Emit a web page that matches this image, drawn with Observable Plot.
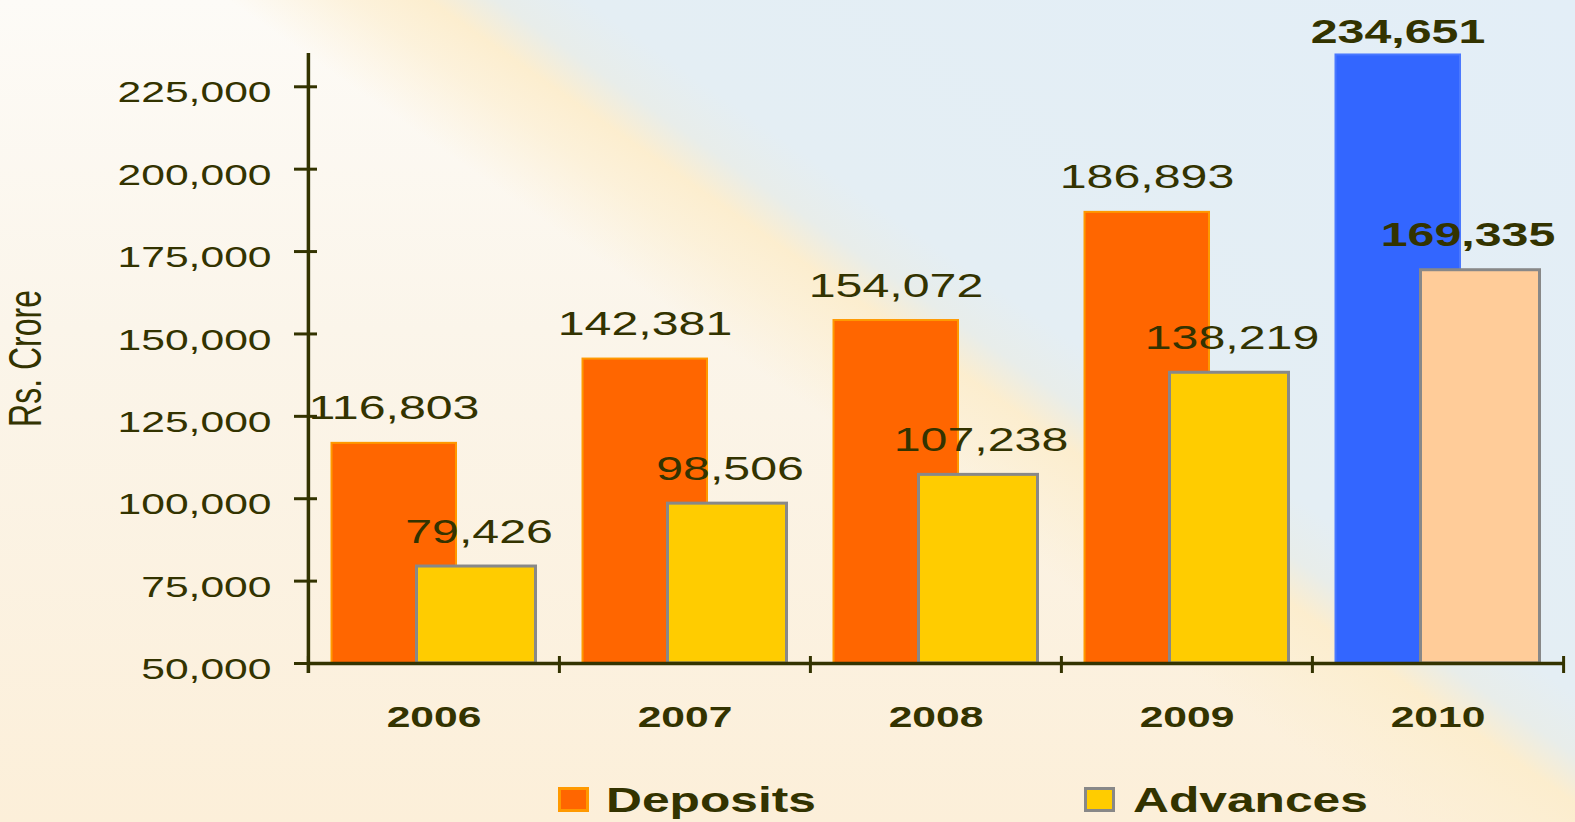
<!DOCTYPE html>
<html>
<head>
<meta charset="utf-8">
<script src="https://cdn.jsdelivr.net/npm/d3@7"></script>
<script src="https://cdn.jsdelivr.net/npm/@observablehq/plot@0.6"></script>
<style>
  html, body { margin: 0; padding: 0; }
  body {
    width: 1575px; height: 822px; overflow: hidden;
    font-family: "Liberation Sans", Arial, sans-serif;
    background:
      linear-gradient(35deg, rgba(252,238,208,0) 0%, rgba(252,238,208,0) 51%, rgba(252,238,208,0.7) 55.5%, rgba(252,237,205,0.95) 58.3%, #E8EDEA 60.8%, #E4EEF4 64%, #E3EEF7 100%),
      linear-gradient(to bottom, #FDFBF7 0%, #FBF5EA 40%, #FCEFD9 100%);
  }
  #wrap { position: relative; width: 1575px; height: 822px; }
  #chart svg { display: block; }
  .leg-box { position: absolute; box-sizing: border-box; width: 31px; height: 25px; }
  .leg-text { position: absolute; font-weight: bold; font-size: 35px; line-height: 35px; color: #333300;
    transform: scaleX(1.42); transform-origin: left center; white-space: nowrap; }
</style>
</head>
<body>
<div id="wrap">
  <div id="chart"></div>
  <div class="leg-box" style="left:558px; top:787px; background:#FF6600; border:3px solid #FF9900;"></div>
  <div class="leg-text" style="left:606px; top:782px;">Deposits</div>
  <div class="leg-box" style="left:1084px; top:787px; background:#FFCC00; border:3px solid #888888;"></div>
  <div class="leg-text" style="left:1133px; top:782px;">Advances</div>
</div>
<script>
const years = ["2006", "2007", "2008", "2009", "2010"];
const deposits = [116803, 142381, 154072, 186893, 234651];
const advances = [79426, 98506, 107238, 138219, 169335];
const yTicks = [50000, 75000, 100000, 125000, 150000, 175000, 200000, 225000];
const yLabel = "Rs. Crore";

const data = years.map((year, i) => ({year, deposits: deposits[i], advances: advances[i]}));
const last = years[years.length - 1];
const W = 1575, H = 745, mL = 307, mR = 12, mT = 53, mB = 82;
const bw = (W - mL - mR) / years.length;
const ink = "#333300";
const fmt = d3.format(",");
const isLast = d => d.year === last;

const plot = Plot.plot({
  width: W, height: H,
  marginLeft: mL, marginRight: mR, marginTop: mT, marginBottom: mB,
  style: {background: "transparent", fontFamily: "Liberation Sans, Arial, sans-serif", color: ink, overflow: "visible"},
  x: {type: "band", domain: years, padding: 0, axis: null},
  y: {domain: [50000, 235100], axis: null},
  marks: [
    Plot.barY(data, {x: "year", y1: 50000, y2: "deposits",
      fill: d => isLast(d) ? "#3366FF" : "#FF6600",
      stroke: d => isLast(d) ? "#4A78FF" : "#FF9900", strokeWidth: 2,
      insetLeft: 23.5, insetRight: 103}),
    Plot.barY(data, {x: "year", y1: 50000, y2: "advances",
      fill: d => isLast(d) ? "#FFCC99" : "#FFCC00",
      stroke: "#888888", strokeWidth: 3,
      insetLeft: 108.5, insetRight: 23.5}),
    Plot.ruleY([50000], {stroke: ink, strokeWidth: 3.5}),
    Plot.ruleX([years[0]], {x: d => d, dx: -bw / 2, stroke: ink, strokeWidth: 3.5, insetBottom: -10}),
    Plot.ruleX(years, {x: d => d, y1: 50000, y2: 50000, dx: -bw / 2, insetTop: -7, insetBottom: -10, stroke: ink, strokeWidth: 3}),
    Plot.ruleX([last], {x: d => d, y1: 50000, y2: 50000, dx: bw / 2, insetTop: -7, insetBottom: -10, stroke: ink, strokeWidth: 3}),
    Plot.axisY({ticks: yTicks, tickSize: 23, dx: 10, tickFormat: () => "", color: ink, strokeWidth: 3, label: null}),
    Plot.axisY({ticks: yTicks, tickSize: 0, tickPadding: 36, dy: 6, tickFormat: fmt, fontSize: 30, color: ink, label: null}),
    Plot.axisX({tickSize: 0, tickPadding: 42, fontSize: 30, fontWeight: "bold", color: ink, label: null}),
    Plot.text(data.filter(d => !isLast(d)), {x: "year", y: "deposits", text: d => fmt(d.deposits),
      dx: -40, dy: -24, fontSize: 34, fill: ink, textAnchor: "middle", lineAnchor: "bottom"}),
    Plot.text(data.filter(d => !isLast(d)), {x: "year", y: "advances", text: d => fmt(d.advances),
      dx: 45, dy: -24, fontSize: 34, fill: ink, textAnchor: "middle", lineAnchor: "bottom"}),
    Plot.text(data.filter(isLast), {x: "year", y: "deposits", text: d => fmt(d.deposits),
      dx: -40, dy: -12, fontSize: 34, fontWeight: "bold", fill: ink, textAnchor: "middle", lineAnchor: "bottom"}),
    Plot.text(data.filter(isLast), {x: "year", y: "advances", text: d => fmt(d.advances),
      dx: 30, dy: -24, fontSize: 34, fontWeight: "bold", fill: ink, textAnchor: "middle", lineAnchor: "bottom"}),
    Plot.text([yLabel], {text: d => d, frameAnchor: "left", dx: -281, rotate: -90, fontSize: 32,
      fill: ink, textAnchor: "middle", lineAnchor: "middle"})
  ]
});

// The reference's lettering is horizontally stretched; reproduce that stretch.
const SX = 1.42;
plot.querySelectorAll("text").forEach(t => {
  const tr = t.getAttribute("transform") || "";
  if (t.textContent === yLabel) {
    t.setAttribute("transform", tr + " scale(1,1.45)");
  } else {
    const x = parseFloat(t.getAttribute("x")) || 0;
    t.setAttribute("transform", `${tr} translate(${x},0) scale(${SX},1) translate(${-x},0)`);
  }
});

document.getElementById("chart").appendChild(plot);
</script>
</body>
</html>
